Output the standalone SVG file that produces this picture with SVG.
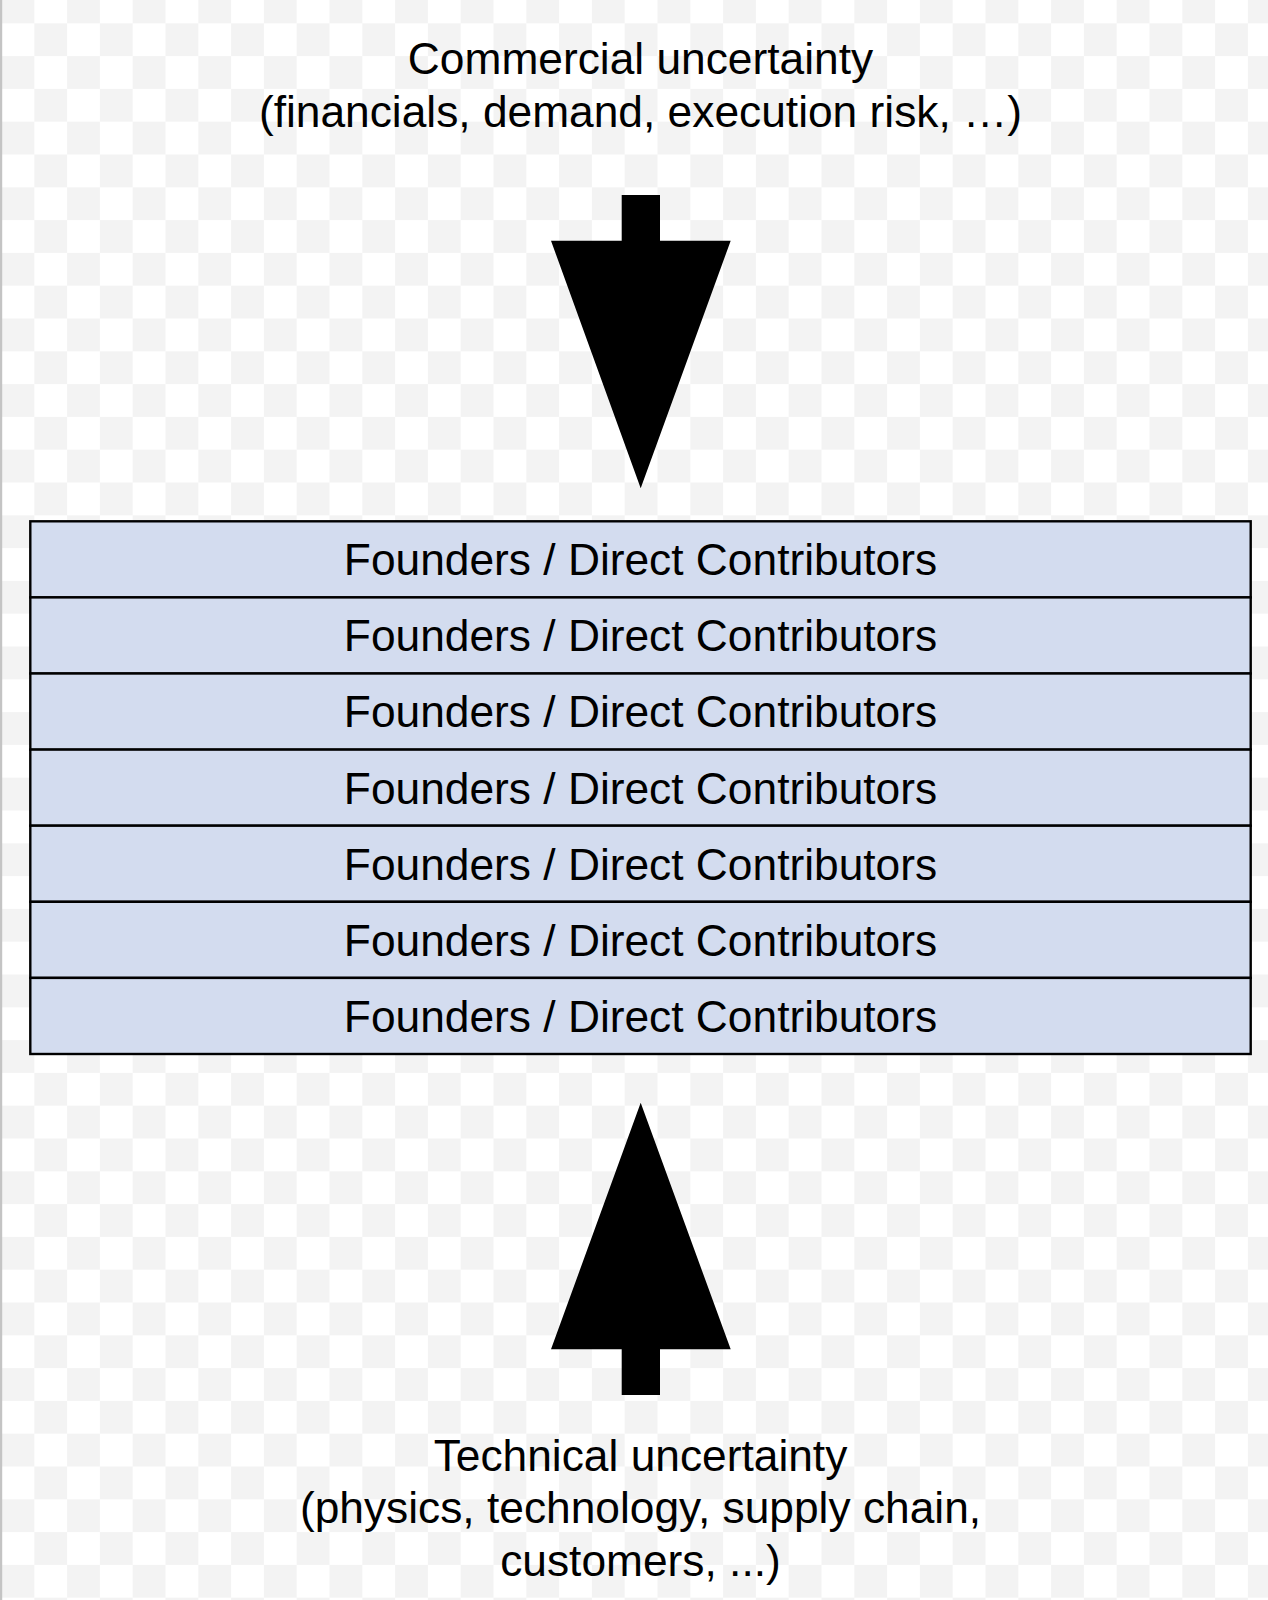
<svg xmlns="http://www.w3.org/2000/svg" width="1268" height="1600" viewBox="0 0 1268 1600">
  <defs>
    <pattern id="checker" patternUnits="userSpaceOnUse" x="1.5" y="-9.5" width="65.6" height="65.6">
      <rect x="0" y="0" width="65.6" height="65.6" fill="#ffffff"/>
      <rect x="0" y="0" width="32.8" height="32.8" fill="#f3f3f3"/>
      <rect x="32.8" y="32.8" width="32.8" height="32.8" fill="#f3f3f3"/>
    </pattern>
    <style>
      .lbl { font-family: "Liberation Sans", Arial, sans-serif; font-size: 44.3px; fill: #000000; text-anchor: middle; }
      .row { fill: #d3dcef; stroke: #000000; stroke-width: 2.4; }
      .arrow { fill: #000000; stroke: none; }
    </style>
  </defs>

  <rect x="0" y="0" width="1268" height="1600" fill="url(#checker)"/>
  <rect x="0" y="0" width="2.2" height="1600" fill="#c4c4c4"/>

  <g id="commercial-label">
    <text class="lbl" x="640.5" y="74">Commercial uncertainty</text>
    <text class="lbl" x="640.5" y="127">(financials, demand, execution risk, …)</text>
  </g>

  <g id="connectors">
    <polygon id="arrow-down" class="arrow" points="621.7,195 660,195 660,240.7 730.7,240.7 640.7,488.3 551,240.7 621.7,240.7"/>
    <polygon id="arrow-up" class="arrow" points="640.7,1102.7 730.7,1349.3 660,1349.3 660,1395 621.7,1395 621.7,1349.3 551,1349.3"/>
  </g>

  <g id="contributors">
    <g id="row1">
      <rect class="row" x="30.3" y="521.3" width="1220.4" height="76.1"/>
      <text class="lbl" x="640.5" y="575.2">Founders / Direct Contributors</text>
    </g>
    <g id="row2">
      <rect class="row" x="30.3" y="597.4" width="1220.4" height="76.1"/>
      <text class="lbl" x="640.5" y="651.3">Founders / Direct Contributors</text>
    </g>
    <g id="row3">
      <rect class="row" x="30.3" y="673.5" width="1220.4" height="76.1"/>
      <text class="lbl" x="640.5" y="727.4">Founders / Direct Contributors</text>
    </g>
    <g id="row4">
      <rect class="row" x="30.3" y="749.6" width="1220.4" height="76.1"/>
      <text class="lbl" x="640.5" y="803.5">Founders / Direct Contributors</text>
    </g>
    <g id="row5">
      <rect class="row" x="30.3" y="825.7" width="1220.4" height="76.1"/>
      <text class="lbl" x="640.5" y="879.6">Founders / Direct Contributors</text>
    </g>
    <g id="row6">
      <rect class="row" x="30.3" y="901.8" width="1220.4" height="76.1"/>
      <text class="lbl" x="640.5" y="955.7">Founders / Direct Contributors</text>
    </g>
    <g id="row7">
      <rect class="row" x="30.3" y="977.9" width="1220.4" height="76.1"/>
      <text class="lbl" x="640.5" y="1031.8">Founders / Direct Contributors</text>
    </g>
  </g>

  <g id="technical-label">
    <text class="lbl" x="640.5" y="1470.5">Technical uncertainty</text>
    <text class="lbl" x="640.5" y="1523">(physics, technology, supply chain,</text>
    <text class="lbl" x="640.5" y="1575.5">customers, ...)</text>
  </g>
</svg>
